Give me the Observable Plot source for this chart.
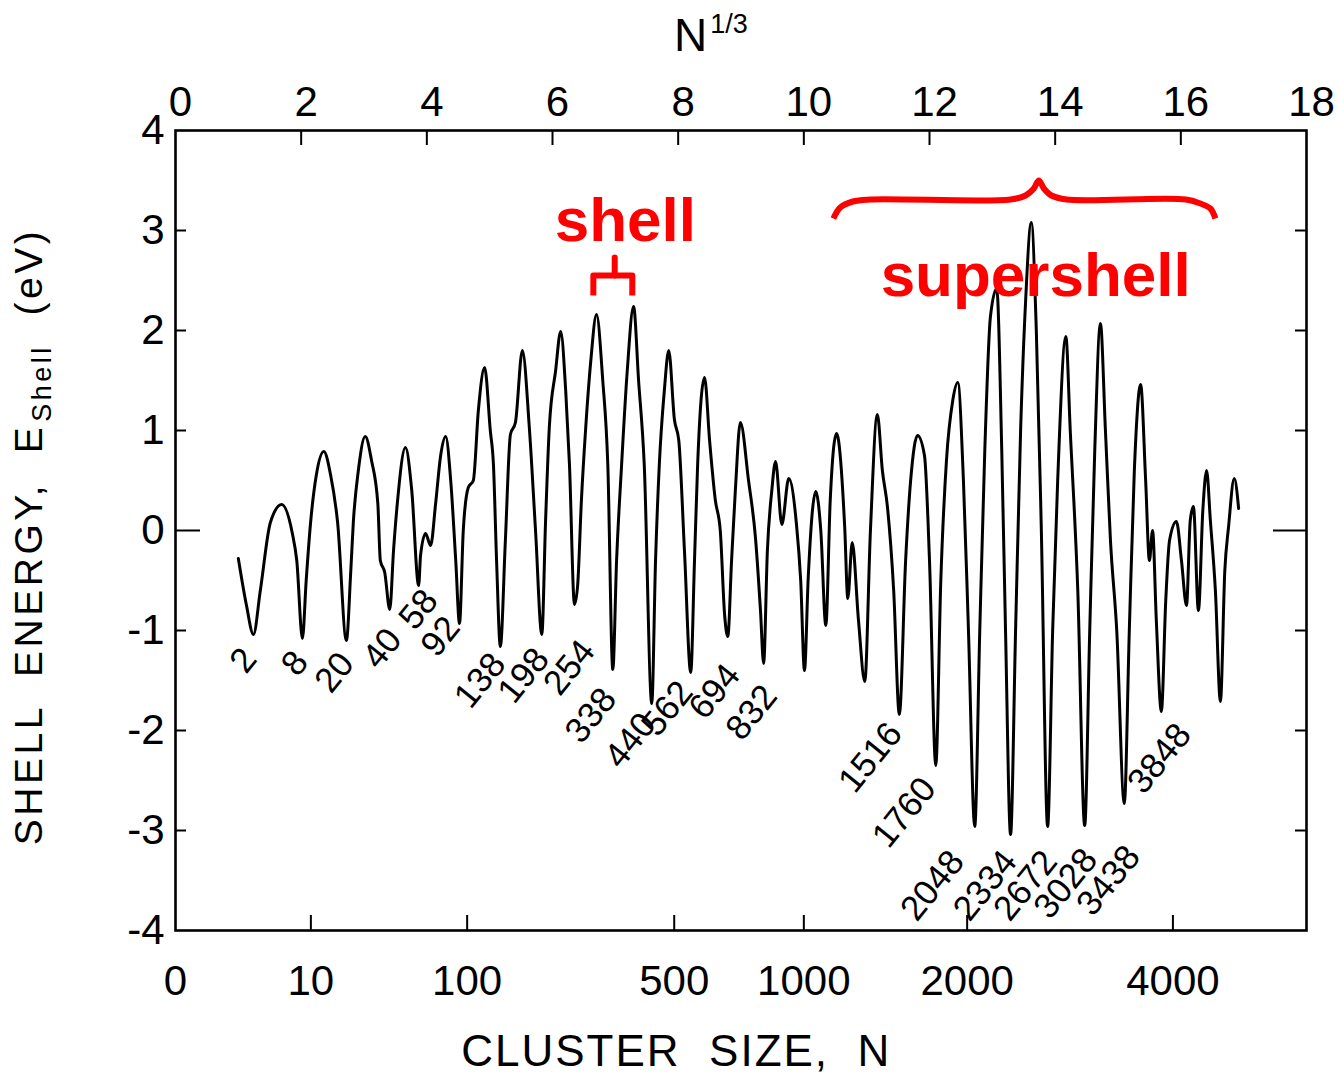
<!DOCTYPE html>
<html>
<head>
<meta charset="utf-8">
<script src="https://cdn.jsdelivr.net/npm/d3@7"></script>
<script src="https://cdn.jsdelivr.net/npm/@observablehq/plot@0.6"></script>
<style>
  html, body { margin: 0; padding: 0; background: #fff; }
  #chart { width: 1338px; height: 1075px; }
</style>
</head>
<body>
<div id="chart"></div>
<script>
// ---------- data ----------
// x: N^(1/3), y: shell energy in eV
const cbrtN = [
  1.00, 1.13, 1.24, 1.35, 1.51, 1.69, 1.86, 1.93, 2.02, 2.08, 2.15, 2.24, 2.36, 2.47, 2.58, 2.72,
  2.79, 2.83, 2.91, 3.02, 3.12, 3.22, 3.26, 3.33, 3.41, 3.47, 3.53, 3.66, 3.76, 3.87, 3.90, 3.98,
  4.06, 4.14, 4.22, 4.30, 4.38, 4.46, 4.52, 4.58, 4.66, 4.74, 4.82, 4.92, 5.01, 5.06, 5.11, 5.17,
  5.25, 5.33, 5.41, 5.52, 5.63, 5.73, 5.83, 5.89, 5.95, 6.05, 6.13, 6.21, 6.27, 6.35, 6.40, 6.46,
  6.53, 6.61, 6.70, 6.80, 6.88, 6.96, 7.02, 7.10, 7.19, 7.29, 7.37, 7.46, 7.58, 7.64, 7.70, 7.78,
  7.85, 7.94, 8.01, 8.10, 8.20, 8.26, 8.31, 8.42, 8.50, 8.59, 8.67, 8.74, 8.79, 8.85, 8.91, 8.99,
  9.12, 9.23, 9.31, 9.36, 9.42, 9.49, 9.55, 9.65, 9.76, 9.88, 9.95, 10.01, 10.07, 10.19, 10.27, 10.35,
  10.42, 10.52, 10.65, 10.70, 10.77, 10.87, 10.97, 11.06, 11.17, 11.25, 11.33, 11.43, 11.52, 11.62, 11.70, 11.81,
  11.92, 12.00, 12.10, 12.18, 12.27, 12.37, 12.45, 12.54, 12.62, 12.72, 12.80, 12.88, 12.97, 13.07, 13.15, 13.21,
  13.29, 13.37, 13.45, 13.53, 13.62, 13.70, 13.78, 13.88, 13.96, 14.04, 14.17, 14.24, 14.36, 14.47, 14.55, 14.63,
  14.72, 14.80, 14.88, 14.98, 15.10, 15.18, 15.26, 15.36, 15.44, 15.50, 15.55, 15.61, 15.69, 15.76, 15.82, 15.93,
  16.01, 16.09, 16.15, 16.20, 16.28, 16.35, 16.41, 16.47, 16.55, 16.63, 16.70, 16.76, 16.85, 16.92
];
const shellE = [
  -0.28, -0.75, -1.04, -0.60, 0.08, 0.26, -0.03, -0.30, -1.08, -0.50, 0.08, 0.55, 0.79, 0.55, 0.08, -1.10,
  -0.40, 0.08, 0.60, 0.94, 0.70, 0.27, -0.30, -0.42, -0.79, -0.20, 0.27, 0.83, 0.40, -0.55, -0.25, -0.03,
  -0.15, 0.27, 0.75, 0.94, 0.50, -0.30, -0.93, 0.00, 0.43, 0.50, 1.20, 1.63, 1.00, 0.66, -0.30, -1.16,
  -0.10, 0.96, 1.08, 1.80, 1.04, 0.00, -1.04, 0.10, 1.04, 1.60, 1.99, 1.40, 0.66, -0.74, -0.55, 0.30,
  1.04, 1.70, 2.16, 1.50, 0.66, -1.39, -0.30, 0.66, 1.60, 2.24, 1.50, 0.66, -1.73, -0.30, 0.66, 1.40,
  1.80, 1.11, 0.90, -0.20, -1.42, -0.30, 0.66, 1.53, 0.90, 0.31, 0.00, -0.85, -1.06, -0.30, 0.40, 1.08,
  0.50, -0.07, -0.80, -1.33, -0.20, 0.40, 0.69, 0.06, 0.52, 0.08, -0.50, -1.40, -0.47, 0.39, 0.00, -0.95,
  0.30, 0.97, 0.04, -0.68, -0.12, -0.90, -1.51, 0.00, 1.16, 0.60, 0.24, -0.60, -1.84, -0.30, 0.50, 0.95,
  0.75, -0.30, -2.35, -0.50, 0.70, 1.30, 1.48, 0.50, -1.00, -2.96, -1.00, 0.80, 2.14, 2.42, 0.80, -1.00,
  -3.04, -1.00, 1.00, 2.30, 3.08, 2.00, 0.00, -2.96, -1.00, 0.50, 1.94, 1.00, -0.60, -2.95, -1.00, 0.80,
  2.07, 1.00, -0.10, -1.00, -2.73, -1.00, 0.60, 1.46, 0.50, -0.30, 0.00, -0.90, -1.81, -0.70, -0.10, 0.09,
  -0.30, -0.75, 0.10, 0.24, -0.80, 0.20, 0.60, 0.10, -0.60, -1.71, -0.40, 0.04, 0.52, 0.22
];

// magic-number labels and where their text sits (N^(1/3), eV)
const magicN      = [2, 8, 20, 40, 58, 92, 138, 198, 254, 338, 440, 562, 694, 832,
                     1516, 1760, 2048, 2334, 2672, 3028, 3438, 3848];
const magicLabelX = [1.08, 1.90, 2.53, 3.29, 3.87, 4.22, 4.85, 5.54, 6.27, 6.61, 7.24, 7.83, 8.58, 9.17,
                     11.06, 11.60, 12.05, 12.89, 13.53, 14.17, 14.85, 15.66];
const magicLabelE = [-1.30, -1.33, -1.42, -1.18, -0.79, -1.06, -1.50, -1.45, -1.37, -1.85, -2.10, -1.78, -1.61, -1.82,
                     -2.27, -2.82, -3.55, -3.55, -3.55, -3.53, -3.50, -2.28];

// axes
const topTicks = [0, 2, 4, 6, 8, 10, 12, 14, 16, 18];
const bottomTickN = [0, 10, 100, 500, 1000, 2000, 4000];
const yTicks = [-4, -3, -2, -1, 0, 1, 2, 3, 4];

// red annotations (N^(1/3), eV)
const shellBracketX = [6.65, 6.65, 7.27, 7.27];
const shellBracketE = [2.35, 2.55, 2.55, 2.35];
const shellStemX = [6.99, 6.99];
const shellStemE = [2.55, 2.73];
const braceX = [10.47, 10.58, 10.78, 11.06, 13.29, 13.53, 13.66, 13.74, 13.82, 13.94, 14.18, 16.08, 16.31, 16.47, 16.55];
const braceE = [3.12, 3.23, 3.29, 3.31, 3.31, 3.35, 3.42, 3.50, 3.42, 3.35, 3.31, 3.31, 3.27, 3.22, 3.12];
const annotText = ["shell", "supershell"];
const annotX = [7.16, 13.69];
const annotE = [2.90, 2.35];

// ---------- build ----------
const W = 1338, H = 1075, mL = 175, mR = 32, mT = 130, mB = 145;
const innerW = W - mL - mR, innerH = H - mT - mB;

const curveData = cbrtN.map((u, i) => ({u, e: shellE[i]}));
const magicData = magicN.map((n, i) => ({n: String(n), x: magicLabelX[i], y: magicLabelE[i]}));
const braceData = braceX.map((x, i) => ({x, y: braceE[i]}));
const shellBracket = shellBracketX.map((x, i) => ({x, y: shellBracketE[i]}));
const shellStem = shellStemX.map((x, i) => ({x, y: shellStemE[i]}));
const annots = annotText.map((t, i) => ({t, x: annotX[i], y: annotE[i]}));
const fmtY = d => d < 0 ? "-" + (-d) : String(d);
const red = "#ff0000";

const plot = Plot.plot({
  width: W, height: H,
  marginLeft: mL, marginRight: mR, marginTop: mT, marginBottom: mB,
  style: {fontFamily: "'Liberation Sans', Arial, Helvetica, sans-serif", background: "#fff", color: "#000", overflow: "visible"},
  x: {domain: [0, 18], axis: null},
  y: {domain: [-4, 4], axis: null},
  marks: [
    // axis labels
    Plot.axisX({anchor: "top", ticks: topTicks, tickSize: 0, tickPadding: 15, fontSize: 42, dx: 5,
                tickFormat: d => String(d), label: null}),
    Plot.axisX({anchor: "bottom", ticks: bottomTickN.map(Math.cbrt), tickSize: 0, tickPadding: 35, fontSize: 42,
                tickFormat: d => String(Math.round(d * d * d)), label: null}),
    Plot.axisY({anchor: "left", ticks: yTicks, tickSize: 0, tickPadding: 11, fontSize: 42,
                tickFormat: fmtY, label: null}),
    // inward ticks
    Plot.tickX(topTicks.slice(1, -1), {x: d => d, insetBottom: innerH - 15, strokeWidth: 2}),
    Plot.tickX(bottomTickN.slice(1).map(Math.cbrt), {x: d => d, insetTop: innerH - 15, strokeWidth: 2}),
    Plot.tickY(yTicks.slice(1, -1).filter(d => d !== 0), {y: d => d, insetRight: innerW - 11, strokeWidth: 2}),
    Plot.tickY([0], {y: d => d, insetRight: innerW - 25, strokeWidth: 2}),
    Plot.tickY(yTicks.slice(1, -1).filter(d => d !== 0), {y: d => d, insetLeft: innerW - 11, strokeWidth: 2}),
    Plot.tickY([0], {y: d => d, insetLeft: innerW - 33, strokeWidth: 2}),
    Plot.frame({strokeWidth: 2.6, stroke: "#000"}),
    // shell energy curve
    Plot.line(curveData, {x: "u", y: "e", curve: "monotone-x", stroke: "#000", strokeWidth: 3, strokeLinejoin: "round"}),
    // magic numbers
    Plot.text(magicData, {x: "x", y: "y", text: "n", rotate: -51, fontSize: 35, fill: "#000"}),
    // red annotations
    Plot.line(braceData, {x: "x", y: "y", curve: "catmull-rom", stroke: red, strokeWidth: 6, strokeLinecap: "butt"}),
    Plot.line(shellBracket, {x: "x", y: "y", stroke: red, strokeWidth: 6, strokeLinejoin: "round", strokeLinecap: "butt"}),
    Plot.line(shellStem, {x: "x", y: "y", stroke: red, strokeWidth: 6, strokeLinecap: "round"}),
    Plot.text(annots, {x: "x", y: "y", text: "t", fill: red, fontSize: 62, fontWeight: "bold", lineAnchor: "bottom"}),
    // titles
    Plot.text(["N1/3"], {text: d => d, frameAnchor: "top", x: 8.52, dy: -80, textAnchor: "middle", lineAnchor: "bottom", fontSize: 46}),
    Plot.text(["CLUSTER  SIZE,  N"], {text: d => d, frameAnchor: "bottom", x: 7.97, dy: 135, textAnchor: "middle", lineAnchor: "bottom", fontSize: 44}),
    Plot.text(["SHELL  ENERGY,  EShell  (eV)"], {text: d => d, frameAnchor: "left", rotate: -90, dx: -134, dy: 6,
                textAnchor: "middle", lineAnchor: "bottom", fontSize: 39})
  ]
});

document.getElementById("chart").appendChild(plot);

// typographic touches: superscript / subscript / spacing
d3.select(plot).selectAll("text").each(function () {
  const t = this.textContent;
  const sel = d3.select(this);
  if (t === "N1/3") {
    sel.text("");
    sel.append("tspan").text("N");
    sel.append("tspan").attr("font-size", 27).attr("dy", -18).attr("dx", 3).text("1/3");
  } else if (t === "CLUSTER  SIZE,  N") {
    sel.style("white-space", "pre").style("letter-spacing", "2px");
  } else if (t === "SHELL  ENERGY,  EShell  (eV)") {
    sel.text("").style("white-space", "pre").style("letter-spacing", "3.5px");
    sel.append("tspan").text("SHELL  ENERGY,  E");
    sel.append("tspan").attr("font-size", 27).attr("dy", 9).attr("dx", 2).text("Shell");
    sel.append("tspan").attr("dy", -9).text("  (eV)");
  }
});
</script>
</body>
</html>
